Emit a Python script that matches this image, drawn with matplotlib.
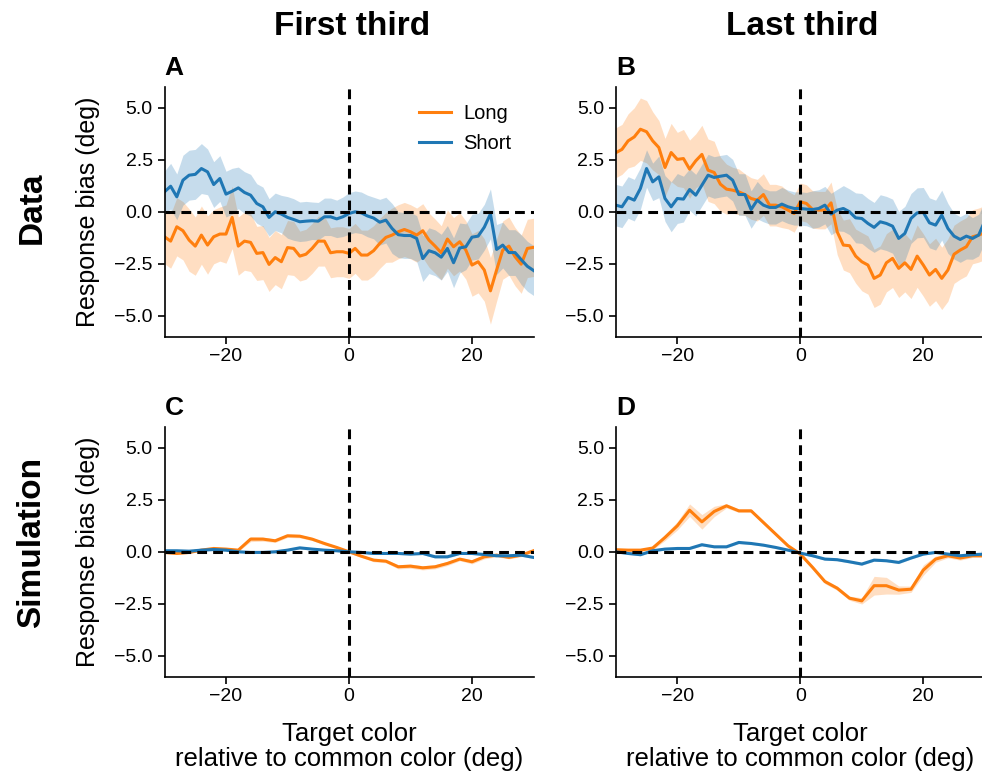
import matplotlib
matplotlib.use("Agg")
import matplotlib.pyplot as plt

plt.rcParams['font.family'] = ['Liberation Sans', 'DejaVu Sans']

# x grids (deg relative to common color)
x_data = list(range(-30, 31))
x_sim = list(range(-30, 31, 2))

# ---- Data, first third (A)
A_long = [-1.2, -1.41, -0.72, -0.91, -1.36, -1.65, -1.12, -1.6, -1.2, -1.07,
          -1.07, -0.27, -1.65, -1.41, -1.47, -2.0, -1.96, -2.53, -2.2, -2.4,
          -1.72, -1.76, -2.13, -2.04, -1.76, -1.41, -1.41, -1.97, -1.92, -1.92,
          -2.0, -1.76, -2.08, -2.08, -1.87, -1.52, -1.23, -1.12, -0.96, -0.85,
          -0.96, -1.12, -0.91, -1.36, -1.65, -1.97, -1.31, -1.68, -1.44, -1.84,
          -2.56, -2.4, -2.8, -3.8, -2.8, -1.84, -1.65, -2.16, -2.52, -1.76,
          -1.71]
A_long_err = [1.3, 1.3, 1.4, 1.4, 1.5, 1.4, 1.4, 1.4, 1.3, 1.3,
              1.4, 1.5, 1.4, 1.4, 1.4, 1.3, 1.3, 1.3, 1.3, 1.3,
              1.3, 1.3, 1.2, 1.2, 1.2, 1.2, 1.2, 1.2, 1.2, 1.2,
              1.2, 1.2, 1.2, 1.2, 1.2, 1.2, 1.2, 1.3, 1.3, 1.3,
              1.3, 1.3, 1.3, 1.3, 1.3, 1.3, 1.4, 1.4, 1.4, 1.4,
              1.5, 1.5, 1.5, 1.6, 1.5, 1.4, 1.4, 1.4, 1.4, 1.4,
              1.4]
A_short = [0.96, 1.23, 0.72, 1.52, 1.76, 1.8, 2.08, 1.92, 1.31, 1.6,
           0.85, 0.99, 1.15, 0.93, 0.8, 0.4, 0.24, -0.27, 0.0, -0.11,
           -0.27, -0.37, -0.48, -0.45, -0.43, -0.45, -0.24, -0.24, -0.34, -0.24,
           -0.08, 0.0, -0.05, -0.2, -0.3, -0.5, -0.4, -0.8, -1.1, -1.14,
           -1.14, -1.28, -2.25, -1.87, -1.97, -2.18, -1.76, -2.45, -1.74, -1.68,
           -1.22, -1.17, -0.74, -0.1, -1.81, -1.6, -1.96, -1.96, -2.3, -2.62,
           -2.82]
A_short_err = [1.0, 1.1, 1.1, 1.2, 1.2, 1.2, 1.2, 1.1, 1.1, 1.1,
               1.1, 1.1, 1.0, 1.0, 1.0, 0.95, 0.95, 0.9, 0.9, 0.9,
               1.0, 1.0, 0.95, 0.95, 0.9, 0.9, 0.9, 0.9, 0.9, 0.95,
               1.0, 1.0, 1.0, 1.0, 1.0, 1.1, 1.1, 1.2, 1.1, 1.1,
               1.1, 1.1, 1.1, 1.1, 1.1, 1.1, 1.1, 1.2, 1.2, 1.1,
               1.1, 1.1, 1.1, 1.2, 1.2, 1.1, 1.1, 1.1, 1.2, 1.2,
               1.2]

# ---- Data, last third (B)
B_long = [2.84, 3.0, 3.41, 3.6, 3.97, 3.85, 3.41, 3.09, 2.13, 2.85,
          2.52, 2.56, 2.05, 2.45, 2.76, 2.0, 1.89, 1.33, 1.09, 1.04,
          0.96, 0.83, 0.64, 0.56, 0.83, 0.32, 0.32, 0.24, 0.08, -0.08,
          0.48, 0.4, 0.11, 0.08, 0.08, 0.43, -0.96, -1.6, -1.63, -2.13,
          -2.4, -2.56, -3.2, -3.04, -2.45, -2.24, -2.72, -2.45, -2.77, -2.13,
          -2.56, -3.04, -2.77, -3.2, -2.8, -2.04, -1.84, -1.68, -1.2, -1.12,
          -1.0]
B_long_err = [1.2, 1.2, 1.3, 1.4, 1.5, 1.5, 1.4, 1.3, 1.4, 1.4,
              1.3, 1.4, 1.4, 1.3, 1.4, 1.5, 1.5, 1.3, 1.2, 1.1,
              1.1, 1.0, 1.0, 1.0, 1.0, 1.0, 1.0, 1.0, 0.9, 0.9,
              0.9, 0.9, 0.9, 0.9, 0.9, 1.0, 1.1, 1.2, 1.3, 1.3,
              1.4, 1.4, 1.4, 1.4, 1.4, 1.4, 1.4, 1.4, 1.4, 1.5,
              1.5, 1.5, 1.5, 1.5, 1.5, 1.4, 1.4, 1.4, 1.3, 1.3,
              1.3]
B_short = [0.32, 0.24, 0.69, 0.56, 1.12, 2.08, 1.44, 1.68, 0.64, 0.24,
           0.64, 0.61, 1.07, 0.8, 1.28, 1.76, 1.65, 1.71, 1.76, 1.52,
           0.83, 0.83, 0.11, 0.56, 0.32, 0.21, 0.21, 0.37, 0.24, 0.16,
           0.16, 0.13, 0.11, 0.16, 0.32, -0.11, 0.08, 0.16, 0.0, -0.29,
           -0.32, -0.56, -0.75, -0.48, -0.56, -0.69, -1.28, -1.04, -0.32, -0.05,
           -0.03, -0.53, -0.64, -0.16, -0.8, -1.17, -1.33, -1.17, -1.28, -1.12,
           -0.45]
B_short_err = [1.0, 1.0, 1.0, 1.0, 1.0, 0.9, 0.9, 1.0, 1.1, 1.2,
               1.2, 1.1, 1.0, 1.0, 1.0, 1.0, 1.0, 1.0, 1.0, 1.0,
               1.0, 1.0, 0.9, 0.9, 0.8, 0.8, 0.8, 0.8, 0.8, 0.8,
               0.8, 0.8, 0.9, 0.9, 0.9, 1.0, 1.0, 1.1, 1.1, 1.2,
               1.2, 1.2, 1.2, 1.3, 1.3, 1.3, 1.3, 1.3, 1.2, 1.2,
               1.2, 1.2, 1.2, 1.2, 1.2, 1.1, 1.1, 1.1, 1.0, 1.0,
               1.0]

# ---- Simulation, first third (C)
C_long = [-0.03, -0.08, -0.03, 0.08, 0.16, 0.13, 0.08, 0.61, 0.61, 0.53,
          0.77, 0.75, 0.61, 0.4, 0.21, 0.0, -0.21, -0.4, -0.45, -0.72,
          -0.69, -0.77, -0.72, -0.56, -0.35, -0.48, -0.24, -0.16, -0.27, -0.16,
          0.05]
C_long_err = [0.05, 0.05, 0.05, 0.06, 0.06, 0.06, 0.06, 0.12, 0.1, 0.08,
              0.08, 0.08, 0.07, 0.07, 0.06, 0.05, 0.06, 0.08, 0.08, 0.1,
              0.1, 0.1, 0.1, 0.1, 0.08, 0.1, 0.1, 0.08, 0.07, 0.07,
              0.06]
C_short = [0.05, 0.05, 0.03, 0.08, 0.11, 0.08, 0.0, -0.03, -0.03, 0.0,
           0.08, 0.19, 0.13, 0.08, 0.05, 0.0, -0.03, -0.08, -0.08, -0.08,
           -0.11, -0.08, -0.24, -0.24, -0.08, -0.08, -0.13, -0.19, -0.19, -0.16,
           -0.27]
C_short_err = [0.04, 0.04, 0.04, 0.05, 0.05, 0.05, 0.04, 0.04, 0.05, 0.05,
               0.05, 0.05, 0.05, 0.04, 0.04, 0.04, 0.04, 0.04, 0.05, 0.05,
               0.05, 0.05, 0.06, 0.06, 0.05, 0.05, 0.05, 0.05, 0.05, 0.05,
               0.05]

# ---- Simulation, last third (D)
D_long = [0.1, 0.08, 0.08, 0.18, 0.69, 1.25, 2.0, 1.44, 1.94, 2.21,
          1.97, 1.97, 1.41, 0.85, 0.29, -0.11, -0.75, -1.43, -1.75, -2.23,
          -2.36, -1.63, -1.63, -1.84, -1.8, -0.88, -0.35, -0.19, -0.3, -0.19,
          -0.19]
D_long_err = [0.05, 0.05, 0.05, 0.08, 0.15, 0.2, 0.3, 0.35, 0.25, 0.1,
              0.08, 0.08, 0.08, 0.08, 0.08, 0.08, 0.08, 0.1, 0.1, 0.1,
              0.15, 0.45, 0.4, 0.2, 0.15, 0.25, 0.15, 0.1, 0.1, 0.08,
              0.08]
D_short = [0.0, -0.08, -0.14, 0.05, 0.13, 0.16, 0.16, 0.34, 0.24, 0.24,
           0.45, 0.4, 0.32, 0.21, 0.08, -0.06, -0.19, -0.35, -0.38, -0.48,
           -0.59, -0.4, -0.43, -0.51, -0.3, -0.11, -0.03, -0.11, -0.19, -0.14,
           -0.11]
D_short_err = [0.04, 0.04, 0.05, 0.05, 0.05, 0.05, 0.05, 0.06, 0.05, 0.05,
               0.06, 0.05, 0.05, 0.05, 0.04, 0.04, 0.05, 0.05, 0.05, 0.06,
               0.06, 0.05, 0.05, 0.06, 0.05, 0.05, 0.04, 0.04, 0.05, 0.05,
               0.04]

col_titles = ['First third', 'Last third']
row_titles = ['Data', 'Simulation']
letters = ['A', 'B', 'C', 'D']
LONG_C = '#ff7f0e'
SHORT_C = '#1f77b4'


def draw_panel(ax, x, lo, lo_err, sh, sh_err):
    for y, e, c, lab in [(lo, lo_err, LONG_C, 'Long'), (sh, sh_err, SHORT_C, 'Short')]:
        lower = [v - s for v, s in zip(y, e)]
        upper = [v + s for v, s in zip(y, e)]
        ax.fill_between(x, lower, upper, color=c, alpha=0.25, lw=0)
        ax.plot(x, y, color=c, lw=2.2, label=lab)
    ax.axhline(0, color='k', lw=2.2, dashes=(3.2, 2.0), zorder=5)
    ax.axvline(0, color='k', lw=2.2, dashes=(3.2, 2.0), zorder=5)
    ax.set_xlim(-30, 30)
    ax.set_ylim(-6, 6)
    ax.set_xticks([-20, 0, 20])
    ax.set_yticks([-5, -2.5, 0, 2.5, 5])
    ax.set_yticklabels(['\u22125.0', '\u22122.5', '0.0', '2.5', '5.0'])
    ax.set_xticklabels(['\u221220', '0', '20'])
    ax.tick_params(labelsize=14, length=5, width=1.2)
    for s in ['top', 'right']:
        ax.spines[s].set_visible(False)
    for s in ['left', 'bottom']:
        ax.spines[s].set_linewidth(1.2)


fig = plt.figure(figsize=(9.82, 7.71), dpi=100)
W, H = 982, 771
lefts = [164.5, 615.8]
tops = [87, 427]
aw, ah = 369, 249.6

panels = [
    (x_data, A_long, A_long_err, A_short, A_short_err),
    (x_data, B_long, B_long_err, B_short, B_short_err),
    (x_sim, C_long, C_long_err, C_short, C_short_err),
    (x_sim, D_long, D_long_err, D_short, D_short_err),
]

axes = []
for i, p in enumerate(panels):
    r, c = divmod(i, 2)
    ax = fig.add_axes([lefts[c] / W, 1 - (tops[r] + ah) / H, aw / W, ah / H])
    draw_panel(ax, *p)
    fig.text(lefts[c] / W, 1 - (tops[r] - 12) / H, letters[i],
             fontsize=19, fontweight='bold', ha='left', va='baseline')
    if c == 0:
        ax.set_ylabel('Response bias (deg)', fontsize=18, labelpad=10)
    if r == 1:
        ax.set_xlabel('Target color\nrelative to common color (deg)', fontsize=18.5,
                      linespacing=1.05, labelpad=12)
    axes.append(ax)

axes[0].legend(loc='upper right', bbox_to_anchor=(0.99, 1.005), frameon=False,
               fontsize=14.5, handlelength=1.6, handletextpad=0.6, labelspacing=0.55)

fig.text(352 / W, 1 - 35 / H, col_titles[0], fontsize=24, fontweight='bold',
         ha='center', va='baseline')
fig.text(802 / W, 1 - 35 / H, col_titles[1], fontsize=24, fontweight='bold',
         ha='center', va='baseline')
fig.text(32 / W, 1 - 208 / H, row_titles[0], fontsize=24, fontweight='bold',
         rotation=90, ha='center', va='center')
fig.text(32 / W, 1 - 542 / H, row_titles[1], fontsize=24, fontweight='bold',
         rotation=90, ha='center', va='center')

fig.savefig('out.png', dpi=100)
